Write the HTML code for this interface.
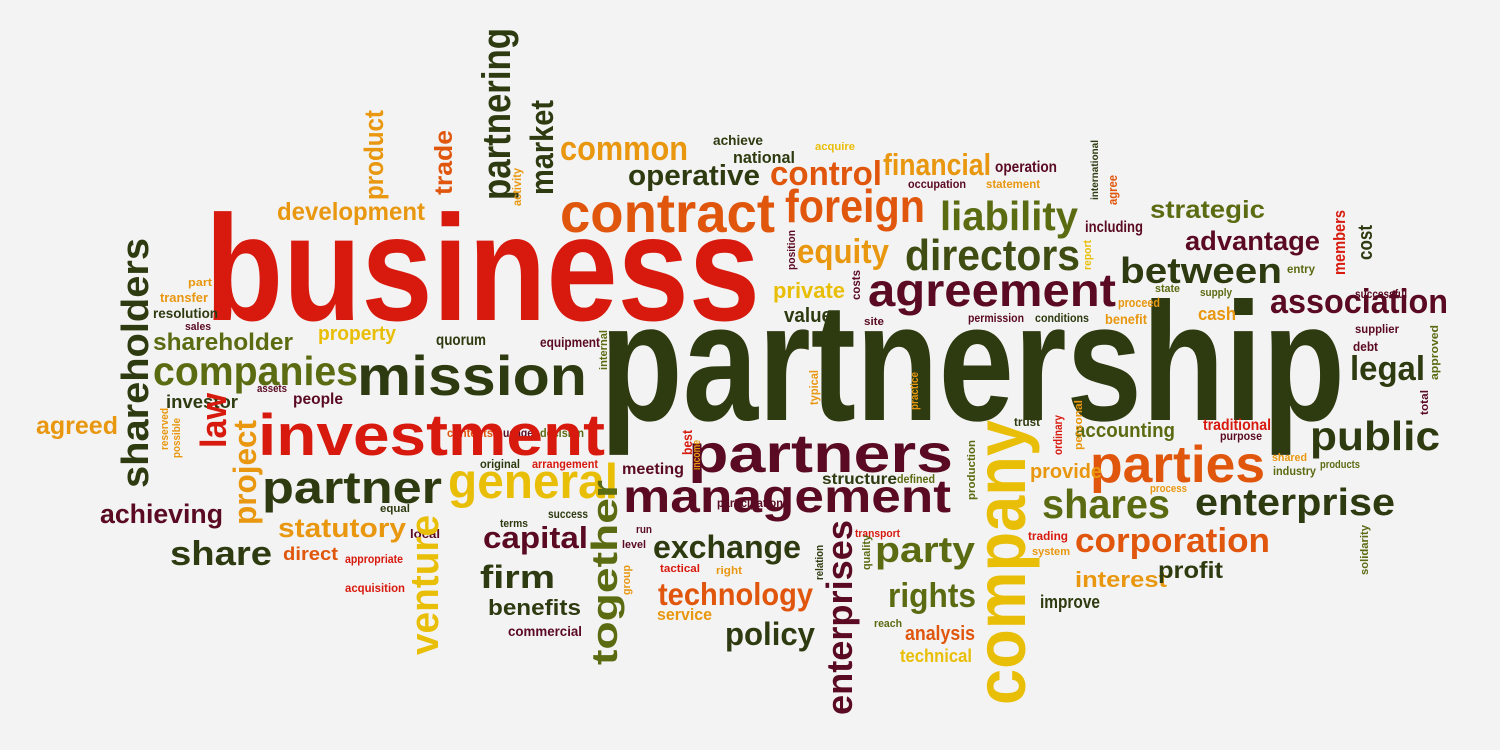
<!DOCTYPE html>
<html><head><meta charset="utf-8">
<style>
html,body{margin:0;padding:0;background:#f3f3f3;}
svg{display:block;}
text{font-family:"Liberation Sans Narrow","Liberation Sans",sans-serif;font-weight:bold;}
</style></head>
<body>
<svg id="cloud" width="1500" height="750" viewBox="0 0 1500 750" xmlns="http://www.w3.org/2000/svg">
<rect width="1500" height="750" fill="#f3f3f3"/>
</svg>
<script>
const C={R:'#d81a0e',O:'#e8970f',Y:'#e9be07',E:'#e0560c',D:'#2e3a10',M:'#5a0a22',L:'#5b6b12',G:'#3f4d13'};
// [text, x, baselineY, size, width, color, rotated]
const words=[
['business',205,320,167,555,'R',0],
['partnership',600,420,187,745,'D',0],
['contract',560,232,62,215,'E',0],
['foreign',785,222,52,140,'E',0],
['common',560,160,38,128,'O',0],
['operative',628,185,32,132,'D',0],
['control',770,185,38,112,'E',0],
['financial',883,175,34,108,'O',0],
['operation',995,172,16,62,'M',0],
['achieve',713,145,14,50,'D',0],
['national',733,163,17,62,'D',0],
['acquire',815,150,11,40,'Y',0],
['occupation',908,188,12,58,'M',0],
['statement',986,188,12,54,'O',0],
['liability',940,230,45,138,'L',0],
['development',277,220,28,148,'O',0],
['strategic',1150,218,28,115,'L',0],
['including',1085,232,16,58,'M',0],
['directors',905,270,48,175,'G',0],
['equity',797,263,38,92,'O',0],
['agreement',868,306,52,248,'M',0],
['advantage',1185,250,30,135,'M',0],
['between',1120,283,40,162,'D',0],
['association',1270,313,38,178,'M',0],
['entry',1287,273,12,28,'L',0],
['private',773,298,22,72,'Y',0],
['value',784,322,20,48,'D',0],
['site',864,325,11,20,'M',0],
['state',1155,292,11,25,'L',0],
['supply',1200,296,11,32,'L',0],
['proceed',1118,307,13,42,'O',0],
['benefit',1105,324,14,42,'O',0],
['cash',1198,320,18,38,'O',0],
['successful',1355,298,12,52,'M',0],
['permission',968,322,12,56,'M',0],
['conditions',1035,322,12,54,'D',0],
['supplier',1355,333,12,44,'M',0],
['debt',1353,351,13,25,'M',0],
['legal',1350,380,38,75,'D',0],
['public',1310,450,45,130,'D',0],
['traditional',1203,430,16,68,'R',0],
['purpose',1220,440,12,42,'M',0],
['trust',1014,426,12,26,'D',0],
['accounting',1075,437,20,100,'L',0],
['parties',1090,482,58,175,'E',0],
['provide',1030,478,20,72,'O',0],
['shared',1272,461,11,35,'O',0],
['industry',1273,475,12,43,'L',0],
['products',1320,468,11,40,'L',0],
['process',1150,492,11,37,'O',0],
['shares',1042,518,45,128,'L',0],
['enterprise',1195,515,42,200,'D',0],
['corporation',1075,552,38,195,'E',0],
['trading',1028,540,12,40,'R',0],
['system',1032,555,11,38,'O',0],
['interest',1075,587,22,92,'O',0],
['profit',1158,578,26,65,'D',0],
['improve',1040,608,18,60,'D',0],
['management',623,512,52,328,'M',0],
['partners',688,472,60,265,'M',0],
['participation',717,507,12,66,'M',0],
['structure',822,484,16,75,'D',0],
['defined',897,483,12,38,'L',0],
['meeting',622,474,16,62,'M',0],
['exchange',653,558,36,148,'D',0],
['party',875,562,40,100,'L',0],
['technology',658,605,35,155,'E',0],
['service',657,620,17,55,'O',0],
['rights',888,607,38,88,'L',0],
['policy',725,645,36,90,'D',0],
['analysis',905,640,20,70,'E',0],
['technical',900,662,18,72,'Y',0],
['reach',874,627,11,28,'L',0],
['transport',855,537,11,45,'R',0],
['run',636,533,11,16,'M',0],
['level',622,548,11,24,'M',0],
['tactical',660,572,11,40,'R',0],
['right',716,574,11,26,'O',0],
['general',448,498,55,170,'Y',0],
['capital',483,548,34,105,'M',0],
['firm',480,588,36,75,'D',0],
['benefits',488,615,22,93,'D',0],
['commercial',508,636,14,74,'M',0],
['success',548,518,12,40,'D',0],
['terms',500,527,11,28,'D',0],
['original',480,468,12,40,'D',0],
['arrangement',532,468,12,66,'R',0],
['contents',447,437,12,46,'E',0],
['usage',503,437,12,30,'M',0],
['decision',540,437,12,44,'L',0],
['equipment',540,347,14,60,'M',0],
['quorum',436,345,16,50,'D',0],
['mission',357,395,62,230,'D',0],
['investment',258,455,65,347,'R',0],
['people',293,404,16,50,'M',0],
['investor',166,408,18,72,'D',0],
['assets',257,392,11,30,'M',0],
['companies',153,385,45,205,'L',0],
['shareholder',153,350,24,140,'L',0],
['property',318,340,20,78,'Y',0],
['sales',185,330,11,26,'M',0],
['resolution',153,318,14,65,'D',0],
['transfer',160,302,13,48,'O',0],
['part',188,286,11,24,'O',0],
['agreed',36,434,28,82,'O',0],
['achieving',100,523,30,123,'M',0],
['share',170,565,38,102,'D',0],
['partner',262,503,50,180,'D',0],
['statutory',278,537,30,128,'O',0],
['direct',283,560,18,55,'E',0],
['appropriate',345,563,12,58,'R',0],
['local',410,538,12,30,'M',0],
['equal',380,512,11,30,'D',0],
['acquisition',345,592,12,60,'R',0],
['shareholders',148,488,42,250,'D',1],
['product',383,200,30,90,'O',1],
['trade',452,195,28,65,'E',1],
['partnering',510,200,44,172,'D',1],
['market',553,195,36,95,'D',1],
['activity',521,206,12,38,'O',1],
['law',226,448,40,55,'R',1],
['project',256,525,36,105,'O',1],
['reserved',168,450,11,42,'O',1],
['possible',180,458,11,40,'O',1],
['venture',438,655,44,140,'Y',1],
['together',617,665,40,185,'L',1],
['internal',607,370,11,40,'L',1],
['best',692,455,14,25,'R',1],
['income',700,470,11,30,'O',1],
['typical',818,405,12,35,'O',1],
['practice',918,410,11,38,'O',1],
['costs',860,300,12,30,'M',1],
['position',795,270,11,40,'M',1],
['enterprises',852,715,40,195,'M',1],
['quality',870,570,11,35,'L',1],
['relation',823,580,11,35,'D',1],
['company',1025,705,78,285,'Y',1],
['production',975,500,11,60,'L',1],
['ordinary',1062,455,12,40,'R',1],
['personal',1082,450,11,50,'O',1],
['international',1098,200,10,60,'D',1],
['agree',1117,205,13,30,'E',1],
['report',1091,270,11,30,'Y',1],
['members',1345,275,17,65,'R',1],
['cost',1372,260,20,35,'D',1],
['approved',1438,380,11,55,'L',1],
['total',1428,415,11,25,'M',1],
['solidarity',1368,575,11,50,'L',1],
['group',630,595,11,30,'O',1]
];
const svg=document.getElementById('cloud');
const NS='http://www.w3.org/2000/svg';
for(const w of words){
  const el=document.createElementNS(NS,'text');
  el.textContent=w[0];
  const s=w[3]>=25?w[3]*0.9:w[3];
  el.setAttribute('font-size',s);
  el.setAttribute('fill',C[w[5]]);
  el.setAttribute('textLength',w[4]);
  el.setAttribute('lengthAdjust','spacingAndGlyphs');
  if(w[6]){
    el.setAttribute('transform','translate('+w[1]+','+w[2]+') rotate(-90)');
    el.setAttribute('x',0);el.setAttribute('y',0);
  }else{
    el.setAttribute('x',w[1]);el.setAttribute('y',w[2]);
  }
  
  
  svg.appendChild(el);
}
</script>
</body></html>
